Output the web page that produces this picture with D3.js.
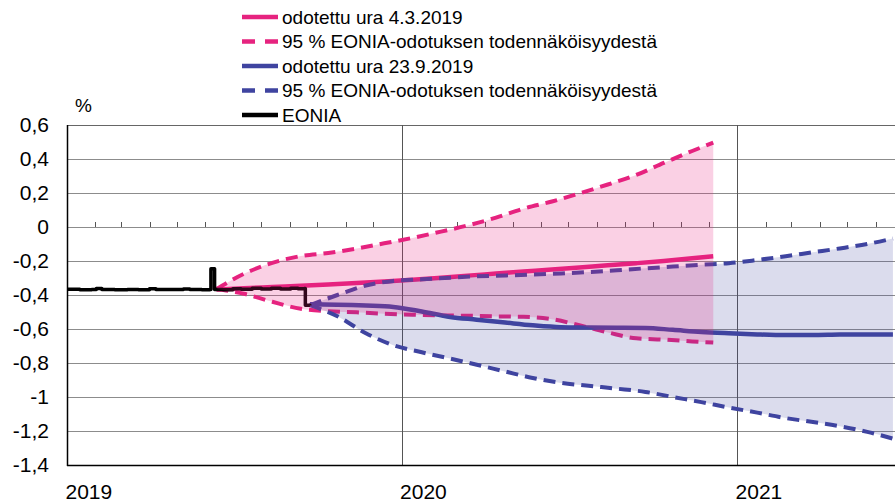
<!DOCTYPE html>
<html>
<head>
<meta charset="utf-8">
<script src="https://cdn.jsdelivr.net/npm/d3@7"></script>
<style>
  body { margin: 0; background: #fff; }
  svg { display: block; font-family: "Liberation Sans", Arial, sans-serif; }
</style>
</head>
<body>
<div id="chart"></div>
<script>
// tick values
var yTicks = [0.6, 0.4, 0.2, 0, -0.2, -0.4, -0.6, -0.8, -1, -1.2, -1.4];
var yearTicks = ["2019-01-01", "2020-01-01", "2021-01-01"];

var legendLabels = [
  "odotettu ura 4.3.2019",
  "95 % EONIA-odotuksen todennäköisyydestä",
  "odotettu ura 23.9.2019",
  "95 % EONIA-odotuksen todennäköisyydestä",
  "EONIA"
];

// EONIA, daily
var eoniaDates = ["2019-01-02","2019-01-15","2019-01-28","2019-02-02","2019-02-08","2019-02-22",
  "2019-03-08","2019-03-20","2019-04-01","2019-04-08","2019-04-22","2019-05-08","2019-05-15",
  "2019-05-28","2019-06-06","2019-06-07","2019-06-10","2019-06-11","2019-06-20","2019-07-01",
  "2019-07-10","2019-07-22","2019-08-01","2019-08-12","2019-08-22","2019-09-02","2019-09-10",
  "2019-09-17","2019-09-18","2019-09-23"];
var eoniaValues = [-0.366,-0.369,-0.368,-0.362,-0.368,-0.369,
  -0.368,-0.369,-0.363,-0.368,-0.368,-0.364,-0.368,
  -0.369,-0.367,-0.245,-0.245,-0.367,-0.369,-0.363,
  -0.366,-0.361,-0.365,-0.360,-0.364,-0.361,-0.363,
  -0.362,-0.460,-0.462];

// expected path 4.3.2019 with 95 % band
var marchDates = ["2019-06-13","2019-07-13","2019-08-13","2019-09-13","2019-10-13","2019-11-13",
  "2019-12-13","2020-01-13","2020-02-13","2020-03-13","2020-04-13","2020-05-13","2020-06-13",
  "2020-07-13","2020-08-13","2020-09-13","2020-10-13","2020-11-13","2020-12-06"];
var marchMid = [-0.368,-0.360,-0.353,-0.346,-0.338,-0.329,-0.320,-0.310,-0.298,-0.286,
  -0.274,-0.262,-0.250,-0.238,-0.225,-0.213,-0.200,-0.184,-0.172];
var marchLow = [-0.365,-0.393,-0.440,-0.481,-0.495,-0.502,-0.510,-0.516,-0.520,-0.522,
  -0.526,-0.528,-0.542,-0.578,-0.620,-0.655,-0.662,-0.673,-0.680];
var marchHigh = [-0.365,-0.275,-0.211,-0.171,-0.153,-0.127,-0.096,-0.064,-0.027,0.009,
  0.055,0.108,0.150,0.198,0.250,0.306,0.377,0.447,0.496];

// expected path 23.9.2019 with 95 % band
var septDates = ["2019-09-23","2019-10-23","2019-11-23","2019-12-23","2020-01-23","2020-02-23",
  "2020-03-23","2020-04-23","2020-05-23","2020-06-23","2020-07-23","2020-08-23","2020-09-23",
  "2020-10-23","2020-11-23","2020-12-23","2021-01-23","2021-02-23","2021-03-23","2021-04-23",
  "2021-05-23","2021-06-20"];
var septMid = [-0.455,-0.457,-0.462,-0.470,-0.497,-0.529,-0.545,-0.562,-0.578,-0.589,-0.591,
  -0.593,-0.594,-0.605,-0.617,-0.625,-0.632,-0.636,-0.636,-0.633,-0.632,-0.632];
var septLow = [-0.460,-0.525,-0.625,-0.695,-0.737,-0.774,-0.810,-0.850,-0.888,-0.917,-0.934,
  -0.951,-0.970,-1.000,-1.030,-1.062,-1.092,-1.124,-1.146,-1.172,-1.205,-1.245];
var septHigh = [-0.460,-0.400,-0.344,-0.317,-0.308,-0.298,-0.290,-0.285,-0.280,-0.273,-0.265,
  -0.255,-0.243,-0.233,-0.222,-0.213,-0.194,-0.172,-0.150,-0.126,-0.100,-0.068];

var pink = "#e6237f", blue = "#3f44a0";

var width = 895, height = 502;
var parseDate = d3.timeParse("%Y-%m-%d");

var x = d3.scaleTime()
    .domain([parseDate("2019-01-01"), parseDate("2021-07-01")])
    .range([67, 903]);
var y = d3.scaleLinear()
    .domain([-1.4, 0.6])
    .range([465, 125]);

var svg = d3.select("#chart").append("svg")
    .attr("width", width)
    .attr("height", height);

function fmt(v) { return String(Math.round(v * 10) / 10).replace(".", ","); }

// horizontal grid
svg.append("g").selectAll("line")
  .data(yTicks)
  .enter().append("line")
    .attr("x1", 67).attr("x2", width)
    .attr("y1", d => Math.round(y(d)) + 0.5).attr("y2", d => Math.round(y(d)) + 0.5)
    .style("stroke", d => d == 0.6 ? "#666" : "#8c8c8c")
    .style("stroke-width", 1);

// year lines
svg.append("g").selectAll("line")
  .data(yearTicks.slice(1))
  .enter().append("line")
    .attr("x1", d => Math.round(x(parseDate(d))) + 0.5).attr("x2", d => Math.round(x(parseDate(d))) + 0.5)
    .attr("y1", y(0.6)).attr("y2", y(-1.4))
    .style("stroke", "#555")
    .style("stroke-width", 1);

// month ticks on zero line
var months = d3.timeMonth.range(parseDate("2019-02-01"), parseDate("2021-07-01"));
svg.append("g").selectAll("line")
  .data(months)
  .enter().append("line")
    .attr("x1", d => Math.round(x(d)) + 0.5).attr("x2", d => Math.round(x(d)) + 0.5)
    .attr("y1", Math.round(y(0)) - 5).attr("y2", Math.round(y(0)))
    .style("stroke", "#555")
    .style("stroke-width", 1);

function series(dates, vals) {
  return dates.map((d, i) => ({date: parseDate(d), value: vals[i]}));
}
function band(dates, lo, hi) {
  return dates.map((d, i) => ({date: parseDate(d), lo: lo[i], hi: hi[i]}));
}

var line = d3.line()
    .curve(d3.curveMonotoneX)
    .x(d => x(d.date))
    .y(d => y(d.value));
var area = d3.area()
    .curve(d3.curveMonotoneX)
    .x(d => x(d.date))
    .y0(d => y(d.lo))
    .y1(d => y(d.hi));

var dash = "12,7";
var lines = svg.append("g").attr("fill", "none");

// lines first, the translucent bands are laid over them
lines.append("path").datum(series(marchDates, marchHigh)).attr("d", line)
    .style("stroke", pink).style("stroke-width", 4).style("stroke-dasharray", dash);
lines.append("path").datum(series(marchDates, marchLow)).attr("d", line)
    .style("stroke", pink).style("stroke-width", 4).style("stroke-dasharray", dash);
lines.append("path").datum(series(marchDates, marchMid)).attr("d", line)
    .style("stroke", pink).style("stroke-width", 4.5);
lines.append("path").datum(series(septDates, septHigh)).attr("d", line)
    .style("stroke", blue).style("stroke-width", 4).style("stroke-dasharray", dash);
lines.append("path").datum(series(septDates, septLow)).attr("d", line)
    .style("stroke", blue).style("stroke-width", 4).style("stroke-dasharray", dash);
lines.append("path").datum(series(septDates, septMid)).attr("d", line)
    .style("stroke", blue).style("stroke-width", 4.5);

lines.append("path").datum(series(eoniaDates, eoniaValues))
    .attr("d", d3.line().curve(d3.curveStepAfter).x(d => x(d.date)).y(d => y(d.value)))
    .style("stroke", "#000").style("stroke-width", 3.5).style("stroke-linejoin", "round");

svg.append("path").datum(band(septDates, septLow, septHigh)).attr("d", area)
    .style("fill", blue).style("fill-opacity", 0.19);
svg.append("path").datum(band(marchDates, marchLow, marchHigh)).attr("d", area)
    .style("fill", pink).style("fill-opacity", 0.21);

// axes
svg.append("line")
    .attr("x1", 67.5).attr("x2", 67.5).attr("y1", y(0.6)).attr("y2", y(-1.4) + 1)
    .style("stroke", "#000").style("stroke-width", 1.5);
svg.append("line")
    .attr("x1", 67).attr("x2", width).attr("y1", Math.round(y(-1.4)) + 0.5).attr("y2", Math.round(y(-1.4)) + 0.5)
    .style("stroke", "#000").style("stroke-width", 1.5);

var yAxis = svg.append("g")
    .attr("transform", "translate(67,0)")
    .call(d3.axisLeft(y).tickValues(yTicks).tickSize(0).tickPadding(18).tickFormat(fmt));
yAxis.select(".domain").remove();
yAxis.selectAll("text")
    .style("font-size", "21px")
    .style("font-family", "Liberation Sans, Arial, sans-serif")
    .style("fill", "#000");

var xAxis = svg.append("g")
    .attr("transform", "translate(0," + y(-1.4) + ")")
    .call(d3.axisBottom(x).tickValues(yearTicks.map(parseDate)).tickSize(0).tickFormat(d3.timeFormat("%Y")));
xAxis.select(".domain").remove();
xAxis.selectAll("text")
    .attr("text-anchor", "start")
    .attr("x", -2)
    .attr("y", 34)
    .attr("dy", null)
    .style("font-size", "21px")
    .style("font-family", "Liberation Sans, Arial, sans-serif")
    .style("fill", "#000");

svg.append("text")
    .attr("x", 75).attr("y", 112)
    .style("font-size", "19px")
    .text("%");

// legend
var legendStyles = [
  {color: pink, dash: null},
  {color: pink, dash: "13,10"},
  {color: blue, dash: null},
  {color: blue, dash: "13,10"},
  {color: "#000", dash: null}
];
var legend = svg.append("g").selectAll("g")
  .data(legendLabels)
  .enter().append("g")
    .attr("transform", (d, i) => "translate(0," + (17 + i * 24.5) + ")");
legend.append("line")
    .attr("x1", 242).attr("x2", 278)
    .style("stroke", (d, i) => legendStyles[i].color)
    .style("stroke-width", 4.5)
    .style("stroke-dasharray", (d, i) => legendStyles[i].dash);
legend.append("text")
    .attr("x", 282).attr("y", 6.5)
    .style("font-size", "19px")
    .text(d => d);
</script>
</body>
</html>
